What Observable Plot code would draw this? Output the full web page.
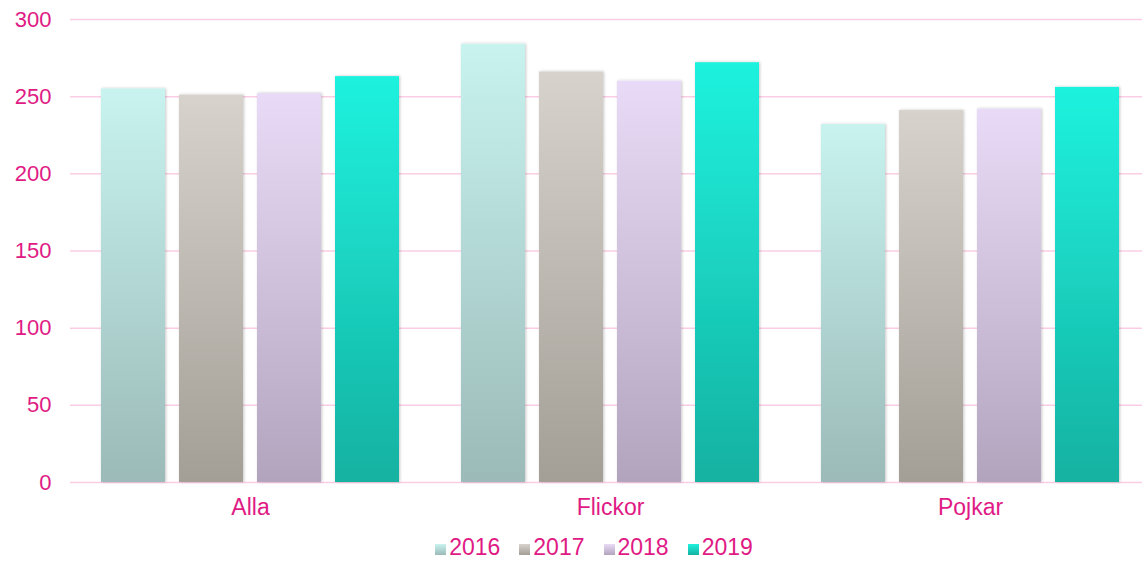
<!DOCTYPE html>
<html>
<head>
<meta charset="utf-8">
<script src="https://cdn.jsdelivr.net/npm/d3@7"></script>
<script src="https://cdn.jsdelivr.net/npm/@observablehq/plot@0.6"></script>
<style>
  html, body { margin: 0; padding: 0; background: #fff; overflow: hidden; }
  #wrap { width: 1142px; position: relative; font-family: "Liberation Sans", Arial, sans-serif; }
  #legend { display: flex; justify-content: center; align-items: baseline; padding-left: 46px; margin-top: 9px;
            font-size: 23px; line-height: 16px; color: #e01a84; }
  .item { display: flex; align-items: baseline; margin-right: 19px; }
  .item:last-child { margin-right: 0; }
  .sw { width: 11px; height: 11px; margin-right: 3px; display: inline-block; }
</style>
</head>
<body>
<div id="wrap"></div>
<script>
const categories = ["Alla", "Flickor", "Pojkar"];
const years = ["2016", "2017", "2018", "2019"];
const v2016 = [255, 284, 232];
const v2017 = [251, 266, 241];
const v2018 = [252, 260, 242];
const v2019 = [263, 272, 256];
const yTicks = [0, 50, 100, 150, 200, 250, 300];
const gradTop = {"2016": "#c8f3ef", "2017": "#d7d3cc", "2018": "#e9dbf7", "2019": "#1ef2de"};
const gradBottom = {"2016": "#9bbab8", "2017": "#a39f97", "2018": "#b3a4be", "2019": "#16b1a1"};

const series = {"2016": v2016, "2017": v2017, "2018": v2018, "2019": v2019};
const data = [];
categories.forEach((c, i) => years.forEach(y => data.push({cat: c, year: y, value: series[y][i]})));

const textColor = "#e01a84";

const chart = Plot.plot({
  width: 1142,
  height: 530,
  marginTop: 19,
  marginBottom: 48,
  marginLeft: 69,
  marginRight: -9,
  style: {fontFamily: "'Liberation Sans', Arial, sans-serif", fontSize: "22px", color: textColor, background: "transparent", overflow: "hidden"},
  fx: {domain: categories, padding: 0, label: null, tickSize: 0, tickPadding: 16, axis: null},
  x: {domain: years, paddingInner: 0.185, paddingOuter: 0.39, axis: null},
  y: {domain: [0, 300], ticks: yTicks, label: null, tickSize: 0, tickPadding: 19},
  color: {domain: years, range: years.map(y => `url(#grad${y})`)},
  marks: [
    Plot.gridY(yTicks, {stroke: "#fbcde5", strokeOpacity: 1, strokeWidth: 1.5}),
    Plot.axisFx({anchor: "bottom", label: null, tickSize: 0, tickPadding: 16, fontSize: 23}),
    Plot.barY(data, {fx: "cat", x: "year", y: "value", fill: "year"})
  ]
});

const svg = d3.select(chart);
const defs = svg.insert("defs", ":first-child");
years.forEach(y => {
  const g = defs.append("linearGradient").attr("id", `grad${y}`).attr("x1", 0).attr("y1", 0).attr("x2", 0).attr("y2", 1);
  g.append("stop").attr("offset", "0%").attr("stop-color", gradTop[y]);
  g.append("stop").attr("offset", "100%").attr("stop-color", gradBottom[y]);
});
const f = defs.append("filter").attr("id", "shadow").attr("x", "-20%").attr("y", "-5%").attr("width", "140%").attr("height", "110%");
f.append("feDropShadow").attr("dx", 1).attr("dy", 0).attr("stdDeviation", 1.5).attr("flood-color", "#000").attr("flood-opacity", 0.22);
svg.selectAll('g[aria-label="bar"] rect').attr("filter", "url(#shadow)");

const wrap = document.getElementById("wrap");
wrap.appendChild(chart);

const legend = document.createElement("div");
legend.id = "legend";
years.forEach(y => {
  const item = document.createElement("span");
  item.className = "item";
  const sw = document.createElement("span");
  sw.className = "sw";
  sw.style.background = `linear-gradient(${gradTop[y]}, ${gradBottom[y]})`;
  const t = document.createElement("span");
  t.textContent = y;
  item.appendChild(sw);
  item.appendChild(t);
  legend.appendChild(item);
});
wrap.appendChild(legend);
</script>
</body>
</html>
